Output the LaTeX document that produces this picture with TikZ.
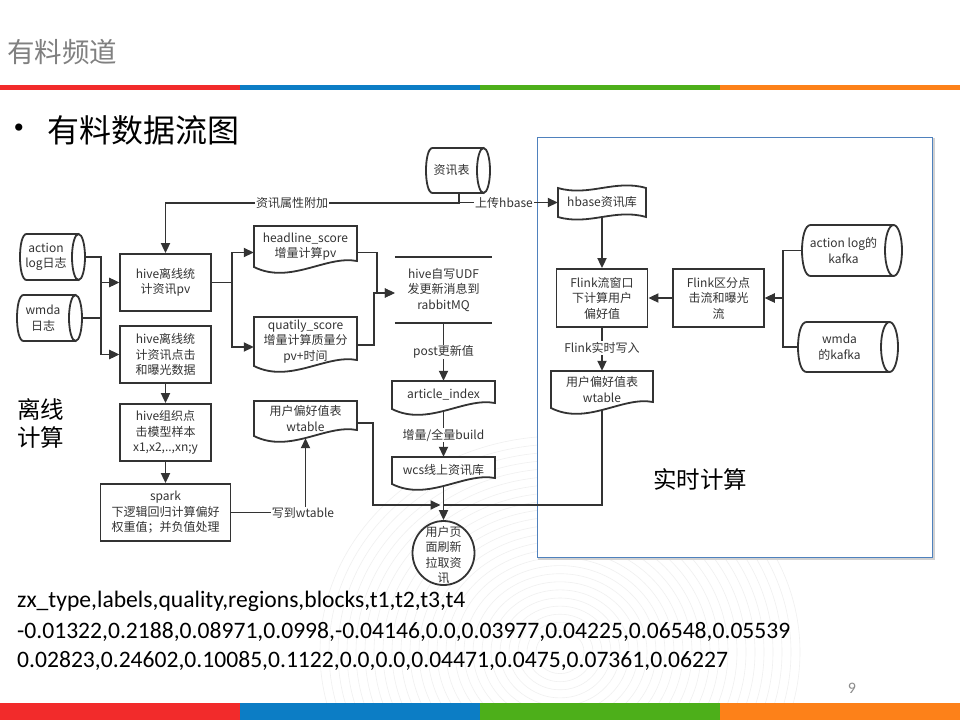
\documentclass[tikz,border=0pt]{standalone}
\usepackage{fontspec}
\setmainfont{Noto Sans CJK SC}
\newfontfamily\numfont{Carlito}
\newfontfamily\dotfont{Liberation Serif}
\usetikzlibrary{arrows.meta,calc,shapes.geometric}
\pgfdeclarelayer{back}
\pgfdeclarelayer{wires}
\pgfsetlayers{back,wires,main}

\definecolor{ink}{HTML}{333333}
\definecolor{barred}{HTML}{F22B2B}
\definecolor{barblue}{HTML}{0C7DC5}
\definecolor{bargreen}{HTML}{4DAF1A}
\definecolor{barorange}{HTML}{FD8119}
\definecolor{frameblue}{HTML}{4F81BD}

\tikzset{
  ln/.style={draw=ink, line width=1.8pt},
  arr/.style={ln, -{Triangle[length=10pt,width=9pt]}},
  txt/.style={text=ink, align=center, inner sep=0pt, font=\fontsize{12}{15.5}\selectfont},
  box/.style={txt, draw=ink, line width=1.8pt, fill=white},
  lbl/.style={txt, fill=white, inner sep=1pt},
}

% document: flat top, wavy bottom (x1,y1,x2,yb = left end of the wave)
\newcommand\docshape[6]{%
  \pgfmathsetmacro\dw{#4-#2}%
  \pgfmathsetmacro\dh{#5-#3}%
  \draw[ln,fill=white] (#2,#5) -- (#2,#3) -- (#4,#3) -- (#4,#5-6)
    .. controls (#4-0.3*\dw,#5-12) and (#2+0.35*\dw,#5+18) .. (#2,#5) -- cycle;
  \node[txt,minimum width=\dw pt,minimum height=\dh pt] (#1) at ({(#2+#4)/2},{(#3+#5)/2}) {#6};
}
% punched tape: wavy top and bottom
\newcommand\tapeshape[6]{%
  \pgfmathsetmacro\dw{#4-#2}%
  \pgfmathsetmacro\dh{#5-#3}%
  \draw[ln,fill=white] (#2,#3) .. controls (#2+0.35*\dw,#3+9) and (#4-0.35*\dw,#3-9) .. (#4,#3)
    -- (#4,#5) .. controls (#4-0.35*\dw,#5-9) and (#2+0.35*\dw,#5+9) .. (#2,#5) -- cycle;
  \node[txt,minimum width=\dw pt,minimum height=\dh pt] (#1) at ({(#2+#4)/2},{(#3+#5)/2}) {#6};
}
% lying cylinder, end face on the right (x1,y1,x2,y2,rx)
\newcommand\cylshape[7]{%
  \pgfmathsetmacro\ry{(#5-#3)/2}%
  \pgfmathsetmacro\ym{(#3+#5)/2}%
  \pgfmathsetmacro\bw{#4-#2-2*#6}%
  \pgfmathsetmacro\ch{#5-#3}%
  \draw[ln,fill=white] (#4-#6,#3) -- (#2+#6,#3) .. controls (#2-#6/3,#3) and (#2-#6/3,#5) .. (#2+#6,#5) -- (#4-#6,#5) -- cycle;
  \draw[ln,fill=white] (#4-#6,\ym) ellipse[x radius=#6pt, y radius=\ry pt];
  \node[txt,minimum width=\bw pt,minimum height=\ch pt] (#1) at ({(#2+#4)/2-#6},\ym) {#7};
}

\begin{document}
\begin{tikzpicture}[x=1pt,y=-1pt]
\useasboundingbox (0,0) rectangle (960,720);

\begin{pgfonlayer}{back}
  \fill[white] (0,0) rectangle (960,720);
  % faint ring watermark
  \begin{scope}
    \clip (0,92) rectangle (960,703);
    \foreach \r in {24,33,...,240}
      \draw[black!6, line width=0.6pt] (560,652) ellipse[x radius=\r pt, y radius=0.9*\r pt];
  \end{scope}
  % colour bars
  \fill[barred]    (0,84.5) rectangle (240,90);
  \fill[barblue]   (240,84.5) rectangle (480,90);
  \fill[bargreen]  (480,84.5) rectangle (720,90);
  \fill[barorange] (720,84.5) rectangle (960,90);
  \fill[barred]    (0,703) rectangle (240,720);
  \fill[barblue]   (240,703) rectangle (480,720);
  \fill[bargreen]  (480,703) rectangle (720,720);
  \fill[barorange] (720,703) rectangle (960,720);
  % real-time frame
  \draw[black!18, line width=2pt] (539,139) rectangle (934,559);
  \fill[white] (537,137) rectangle (932,557);
  \draw[frameblue, line width=1pt] (537,137) rectangle (932,557);
\end{pgfonlayer}

% headings
\node[anchor=west, text=black!50, inner sep=0pt, font=\fontsize{27.5}{27.5}\selectfont] (title) at (7,52) {有料频道};
\node[inner sep=0pt, font=\dotfont\fontsize{30}{30}\selectfont] (bullet) at (19,131) {•};
\node[anchor=west, inner sep=0pt, font=\fontsize{32}{32}\selectfont] (heading) at (47,130) {有料数据流图};
\node[anchor=west, align=left, inner sep=0pt, font=\fontsize{23.5}{28}\selectfont] (offline) at (17,423) {离线\\计算};
\node[inner sep=0pt, font=\fontsize{23.5}{23.5}\selectfont] (realtime) at (700,479) {实时计算};

% offline part
\cylshape{act}{20}{234}{85}{280}{6.5}{action\\log日志}
\cylshape{wm}{17}{295}{82}{341}{6.5}{wmda\\日志}
\cylshape{zx}{426}{148}{490}{193}{6.5}{资讯表}

\node[box, minimum width=91pt, minimum height=57pt] (hive1) at (165.5,282.5) {hive离线统\\计资讯pv};
\node[box, minimum width=91pt, minimum height=57pt] (hive2) at (165.5,354.5) {hive离线统\\计资讯点击\\和曝光数据};
\node[box, minimum width=91pt, minimum height=57pt] (hive3) at (165.5,432.5) {hive组织点\\击模型样本\\x1,x2,..,xn;y};
\node[box, minimum width=130pt, minimum height=57pt] (spark) at (165.5,512.5) {spark\\下逻辑回归计算偏好\\权重值；并负值处理};

\docshape{hl}{254}{226}{357}{267}{headline\_score\\增量计算pv}
\docshape{qs}{254}{317}{357}{366}{quatily\_score\\增量计算质量分\\pv+时间}
\docshape{wtl}{254}{401}{357}{436}{用户偏好值表\\wtable}
\docshape{ai}{392}{381}{495}{409}{article\_index}
\docshape{wcs}{392}{457}{495}{484}{wcs线上资讯库}

\node[txt, minimum width=97pt, minimum height=66pt] (udf) at (443.5,290) {hive自写UDF\\发更新消息到\\rabbitMQ};
\draw[ln] (udf.north west) -- (udf.north east);
\draw[ln] (udf.south west) -- (udf.south east);

\node[ellipse, draw=ink, line width=1.8pt, fill=white, minimum width=62pt, minimum height=64pt, inner sep=0pt] (user) at (443.5,553) {};
\node[txt] (usertext) at (443.5,555) {用户页\\面刷新\\拉取资\\讯};

% real-time part
\tapeshape{hb}{558}{188}{646}{217}{hbase资讯库}
\node[box, minimum width=91pt, minimum height=58pt] (fw) at (602,298) {Flink流窗口\\下计算用户\\偏好值};
\node[box, minimum width=91pt, minimum height=58pt] (fd) at (718.5,298) {Flink区分点\\击流和曝光\\流};
\cylshape{ak}{802}{225}{902}{276}{8.5}{action log的\\kafka}
\cylshape{wk}{798}{322}{898}{372}{8.5}{wmda\\的kafka}
\docshape{wtr}{551}{371}{653}{408}{用户偏好值表\\wtable}

% connectors
\begin{pgfonlayer}{wires}
  \draw[arr] (act.east) -| ([xshift=-18pt]hive1.west) -- (hive1.west);
  \draw[arr] (act.east) -| ([xshift=-18pt]hive2.west) -- (hive2.west);
  \draw[arr] (wm.east) -| ([xshift=-18pt]hive1.west) -- (hive1.west);
  \draw[arr] (wm.east) -| ([xshift=-18pt]hive2.west) -- (hive2.west);

  \draw[arr] ([xshift=7.5pt]zx.south) |- (hive1.north |- 0,203) -- (hive1.north);
  \draw[arr] ([xshift=7.5pt]zx.south) |- (hb.west);

  \draw[arr] (hive1.east) -| ([xshift=-22pt,yshift=-6pt]hl.west) -- ([yshift=-6pt]hl.west);
  \draw[arr] (hive1.east) -| ([xshift=-22pt,yshift=-5.5pt]qs.west) -- ([yshift=-5.5pt]qs.west);
  \draw[arr] ([yshift=-6pt]hl.east) -| ([xshift=-18pt,yshift=-3pt]udf.west) -- ([yshift=-3pt]udf.west);
  \draw[arr] ([yshift=-3.5pt]qs.east) -| ([xshift=-21pt,yshift=-3pt]udf.west) -- ([yshift=-3pt]udf.west);

  \draw[arr] (hive2.south) -- (hive3.north);
  \draw[arr] (hive3.south) -- (spark.north);
  \draw[arr] (spark.east) -| ([yshift=-2pt]wtl.south);

  \draw[arr] (udf.south) -- (ai.north);
  \draw[arr] (ai.south) -- (wcs.north);
  \draw[arr] (wcs.south) -- (user.north);
  \draw[arr] ([yshift=-4.5pt]wtl.east) -- ++(16,0) |- ([xshift=-3pt]user.north |- 0,505);
  \draw[ln] (wtr.south) |- (user.north |- 0,505);

  \draw[arr] (hb.south) -- (fw.north);
  \draw[arr] (fd.west) -- (fw.east);
  \draw[arr] (ak.west) -| ([xshift=18pt]fd.east) -- (fd.east);
  \draw[arr] (wk.west) -| ([xshift=18pt]fd.east) -- (fd.east);
  \draw[arr] (fw.south) -- (wtr.north);
\end{pgfonlayer}

% connector labels
\node[lbl] (lblattr) at (292,203) {资讯属性附加};
\node[lbl] (lblhbase) at (504,203) {上传hbase};
\node[lbl] (lblpost) at (443.5,352) {post更新值};
\node[lbl] (lblbuild) at (443.5,435) {增量/全量build};
\node[lbl] (lblflink) at (602,348) {Flink实时写入};
\node[lbl] (lblwt) at (303,513) {写到wtable};

% coefficient table
\node[anchor=west, inner sep=0pt, font=\numfont\fontsize{23.6}{23.6}\selectfont] (row0) at (17,601) {zx\_type,labels,quality,regions,blocks,t1,t2,t3,t4};
\node[anchor=west, inner sep=0pt, font=\numfont\fontsize{23.6}{23.6}\selectfont] (row1) at (17,632) {-0.01322,0.2188,0.08971,0.0998,-0.04146,0.0,0.03977,0.04225,0.06548,0.05539};
\node[anchor=west, inner sep=0pt, font=\numfont\fontsize{23.6}{23.6}\selectfont] (row2) at (17,661) {0.02823,0.24602,0.10085,0.1122,0.0,0.0,0.04471,0.0475,0.07361,0.06227};
\node[text=black!45, inner sep=0pt, font=\numfont\fontsize{16}{16}\selectfont] (page) at (852,688) {9};
\end{tikzpicture}
\end{document}
